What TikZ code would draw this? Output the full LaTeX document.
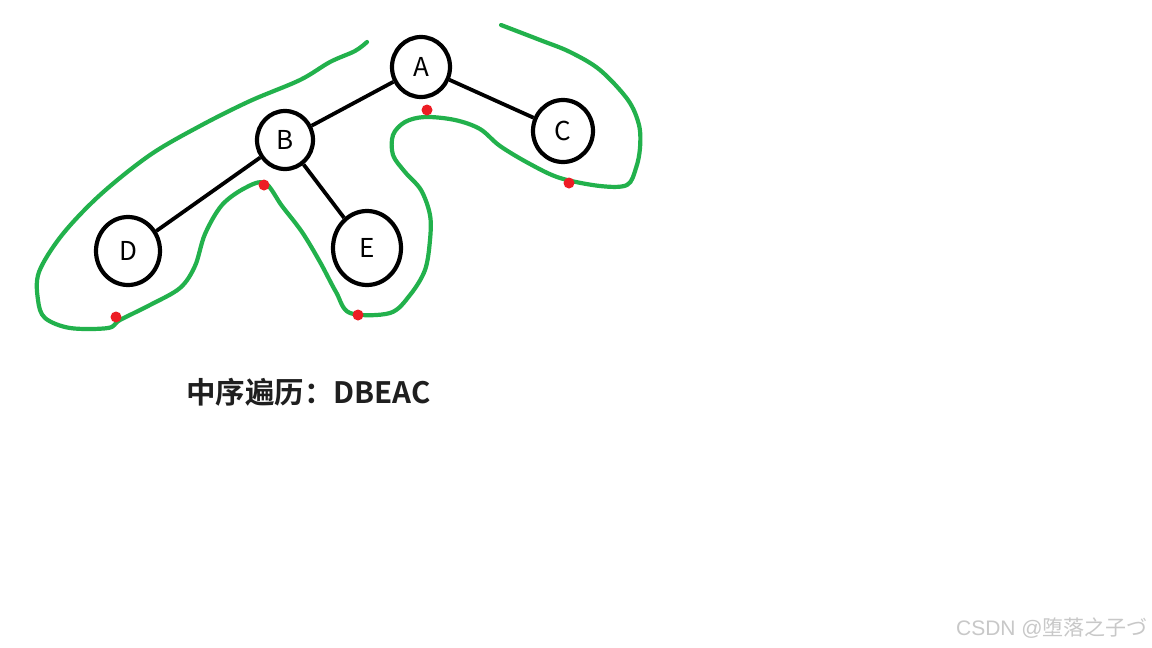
\documentclass[tikz,border=0pt]{standalone}
\usepackage{fontspec}
\setmainfont{Noto Sans CJK SC}
\newfontfamily\cjkb{Noto Sans CJK SC Bold}
\newfontfamily\wmlat{Liberation Sans}
\usetikzlibrary{shapes.geometric}
\definecolor{pgreen}{RGB}{34,177,76}
\definecolor{pred}{RGB}{237,28,36}
\definecolor{wmgray}{RGB}{200,200,200}
\tikzset{
  tnode/.style={draw=black, line width=4.2pt, ellipse, inner sep=0pt, font=\fontsize{26}{26}\selectfont},
  tedge/.style={draw=black, line width=3.8pt},
  trace/.style={draw=pgreen, line width=4.2pt, line cap=round, line join=round},
  rdot/.style={fill=pred, draw=none}
}
\begin{document}
\begin{tikzpicture}[x=1pt,y=-1pt]
\useasboundingbox[fill=white] (0,0) rectangle (1152,648);
\node[tnode, minimum width=58pt, minimum height=60pt] (A) at (421,67) {A};
\node[tnode, minimum width=56pt, minimum height=58pt] (B) at (285,140) {B};
\node[tnode, minimum width=60pt, minimum height=62pt] (C) at (563,131) {C};
\node[tnode, minimum width=64pt, minimum height=68pt] (D) at (128,251) {D};
\node[tnode, minimum width=68pt, minimum height=74pt] (E) at (367,248) {E};
\draw[tedge] (A) -- (B);
\draw[tedge] (A) -- (C);
\draw[tedge] (B) -- (D);
\draw[tedge] (B) -- (E);
\draw[trace] plot[smooth, tension=0.55] coordinates {
 (367,42) (355,51) (330,62) (300,80) (250,101) (200,126) (150,155) (100,195)
 (62,235) (39,272) (38,300) (45,318) (70,328) (108,328) (120,320) (150,305)
 (180,288) (195,266) (205,234) (222,205) (245,188) (265,183) (282,206) (302,232)
 (320,262) (336,292) (350,313) (390,313) (410,295) (425,270) (430,240) (430,215)
 (421,190) (405,172) (393,155) (393,135) (405,122) (425,117) (455,120) (480,129)
 (500,146) (530,164) (560,178) (600,186) (627,185) (636,168) (640,148) (639,125)
 (628,100) (600,70) (570,52) (540,40) (501,25)};
\fill[rdot] (427,110) circle (5.5pt);
\fill[rdot] (264,185) circle (5.5pt);
\fill[rdot] (116,317) circle (5.5pt);
\fill[rdot] (358,315) circle (5.5pt);
\fill[rdot] (569,183) circle (5.5pt);
\node[anchor=west, inner sep=0pt, font=\cjkb\fontsize{29.5}{29.5}\selectfont, text=black!88] (T) at (186,392) {中序遍历：DBEAC};
\node[anchor=east, inner sep=0pt, font=\fontsize{21}{21}\selectfont, text=wmgray] (W) at (1148,628) {{\wmlat CSDN @}堕落之子づ};
\end{tikzpicture}
\end{document}
